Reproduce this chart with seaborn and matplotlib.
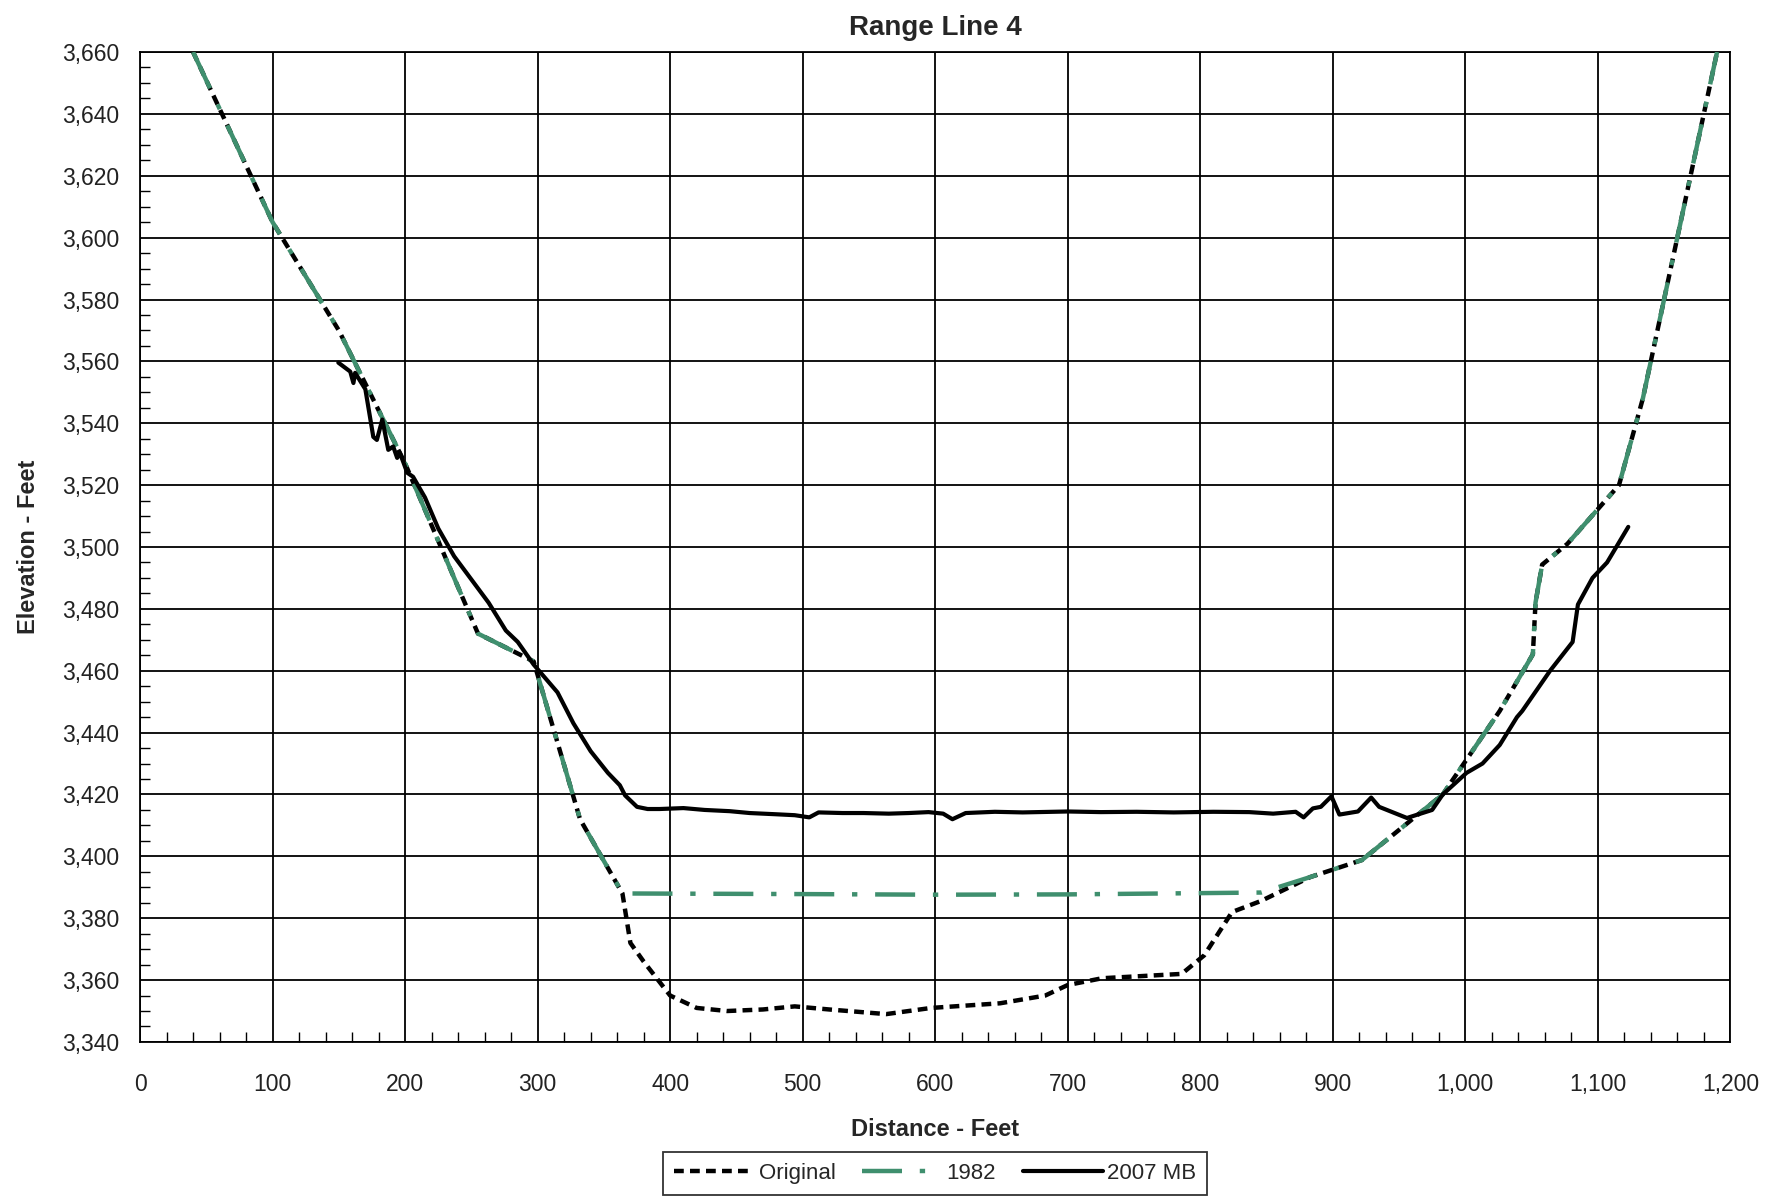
import numpy as np
import pandas as pd
import matplotlib
matplotlib.use("Agg")
import matplotlib.pyplot as plt
import matplotlib.ticker as mticker
import seaborn as sns

# ---------------- data ----------------
# Original survey (black dashed)
orig_x = [40, 100, 150, 200, 255, 297, 332, 364, 370, 380, 400, 420, 443, 470, 494,
          520, 563, 597, 649, 683, 700, 726, 786, 803, 824, 846, 883, 922, 983,
          1026, 1051, 1053, 1058, 1077, 1116, 1134, 1160, 1190]
orig_y = [3660, 3605, 3570, 3527, 3472, 3463, 3412, 3388, 3372, 3366, 3355, 3351, 3350,
          3350.5, 3351.5, 3350.5, 3349, 3351, 3352.5, 3355, 3358.4, 3360.6, 3362, 3368,
          3382, 3385.6, 3393.3, 3398.8, 3420, 3447, 3465.3, 3482, 3494.3, 3501, 3520,
          3548, 3600, 3660]

# 1982 survey (green dash-dot): same banks, flat bottom across the channel
y1982_x = [40, 100, 150, 200, 255, 297, 332, 364, 500, 600, 700, 846, 883, 922, 983,
           1026, 1051, 1053, 1058, 1077, 1116, 1134, 1160, 1190]
y1982_y = [3660, 3605, 3570, 3527, 3472, 3463, 3412, 3388, 3387.8, 3387.6, 3387.7, 3388.3,
           3393.3, 3398.8, 3420, 3447, 3465.3, 3482, 3494.3, 3501, 3520, 3548, 3600, 3660]

# 2007 multibeam (black solid)
mb_x = [149.6, 158.6, 161, 162.3, 170, 176, 178.7, 182.8, 187.3, 191, 194, 196, 201.6, 206,
        215, 225, 237, 250, 263, 276, 285, 297, 315, 327, 340, 353, 362, 366, 375, 383,
        392, 410, 426, 445, 460, 480, 494, 505, 512, 530, 546, 565, 580, 595, 606, 613,
        623, 645, 666, 700, 725, 752, 780, 810, 837, 855, 872, 878, 885, 891, 899, 905,
        919, 929, 935, 956, 975, 983, 1001, 1013, 1026, 1039, 1043, 1064, 1081, 1085,
        1096, 1107, 1123]
mb_y = [3559.6, 3556.7, 3553, 3556.3, 3551, 3535.6, 3534.6, 3541.2, 3531.4, 3532.5, 3528.8,
        3530.5, 3524, 3522.7, 3516, 3506, 3497, 3489.5, 3482, 3473, 3469.3, 3462, 3453,
        3443, 3434, 3427, 3423, 3419.7, 3416, 3415.3, 3415.3, 3415.6, 3415, 3414.6, 3414,
        3413.6, 3413.3, 3412.6, 3414.2, 3414, 3414, 3413.8, 3414, 3414.3, 3413.8, 3412,
        3414, 3414.4, 3414.2, 3414.5, 3414.3, 3414.4, 3414.2, 3414.4, 3414.3, 3413.8,
        3414.4, 3412.6, 3415.5, 3416, 3419.4, 3413.5, 3414.5, 3419, 3416, 3412.4, 3415,
        3420, 3427, 3430, 3436, 3445, 3447, 3460, 3469.3, 3481.4, 3490, 3495, 3506.5]

green = "#3f8f6e"

sns.set_style("white")
plt.rcParams["font.family"] = ["Liberation Sans", "DejaVu Sans"]

fig, ax = plt.subplots(figsize=(17.82, 11.96), dpi=100)
fig.subplots_adjust(left=0.0786, right=0.971, top=0.9565, bottom=0.1288)

# original first, 1982 drawn over it so the shared banks alternate green / black
sns.lineplot(x=orig_x, y=orig_y, sort=False, color="black", lw=3.2,
             linestyle=(0, (2.2, 1.4)), label="Original", ax=ax, zorder=3)
sns.lineplot(x=y1982_x, y=y1982_y, sort=False, color=green, lw=3.2,
             linestyle=(0, (9, 4, 1.2, 4)), label="1982", ax=ax, zorder=4)
sns.lineplot(x=mb_x, y=mb_y, sort=False, color="black", lw=3.0,
             label="2007 MB", ax=ax, zorder=5)

ax.set_xlim(0, 1200)
ax.set_ylim(3340, 3660)
ax.xaxis.set_major_locator(mticker.MultipleLocator(100))
ax.xaxis.set_minor_locator(mticker.MultipleLocator(20))
ax.yaxis.set_major_locator(mticker.MultipleLocator(20))
ax.yaxis.set_minor_locator(mticker.MultipleLocator(5))
fmt = mticker.FuncFormatter(lambda v, p: f"{v:,.0f}")
ax.xaxis.set_major_formatter(fmt)
ax.yaxis.set_major_formatter(fmt)

ax.grid(True, which="major", color="black", lw=1.3)
ax.tick_params(which="major", direction="out", length=7, width=1.3, color="black",
               labelsize=16.5, labelcolor="#222222")
ax.tick_params(axis="x", which="major", pad=15)
ax.tick_params(axis="y", which="major", pad=8)
ax.tick_params(which="minor", direction="in", length=7, width=1.0, color="black",
               bottom=True, left=True)
for s in ax.spines.values():
    s.set_color("black")
    s.set_linewidth(1.3)

ax.set_title("Range Line 4", fontsize=20, fontweight="bold", pad=12)
ax.set_xlabel("Distance - Feet", fontsize=17, fontweight="bold", labelpad=16)
ax.set_ylabel("Elevation - Feet", fontsize=17, fontweight="bold", labelpad=16)

h, l = ax.get_legend_handles_labels()
leg = ax.legend(h, l, loc="upper center",
                bbox_to_anchor=(0.5, -0.1), ncol=3, fontsize=16, frameon=True,
                fancybox=False, edgecolor="black", handlelength=3.6,
                columnspacing=1.2, handletextpad=0.2, borderpad=0.5)
leg.get_frame().set_linewidth(1.3)

fig.savefig("out.png", dpi=100)
